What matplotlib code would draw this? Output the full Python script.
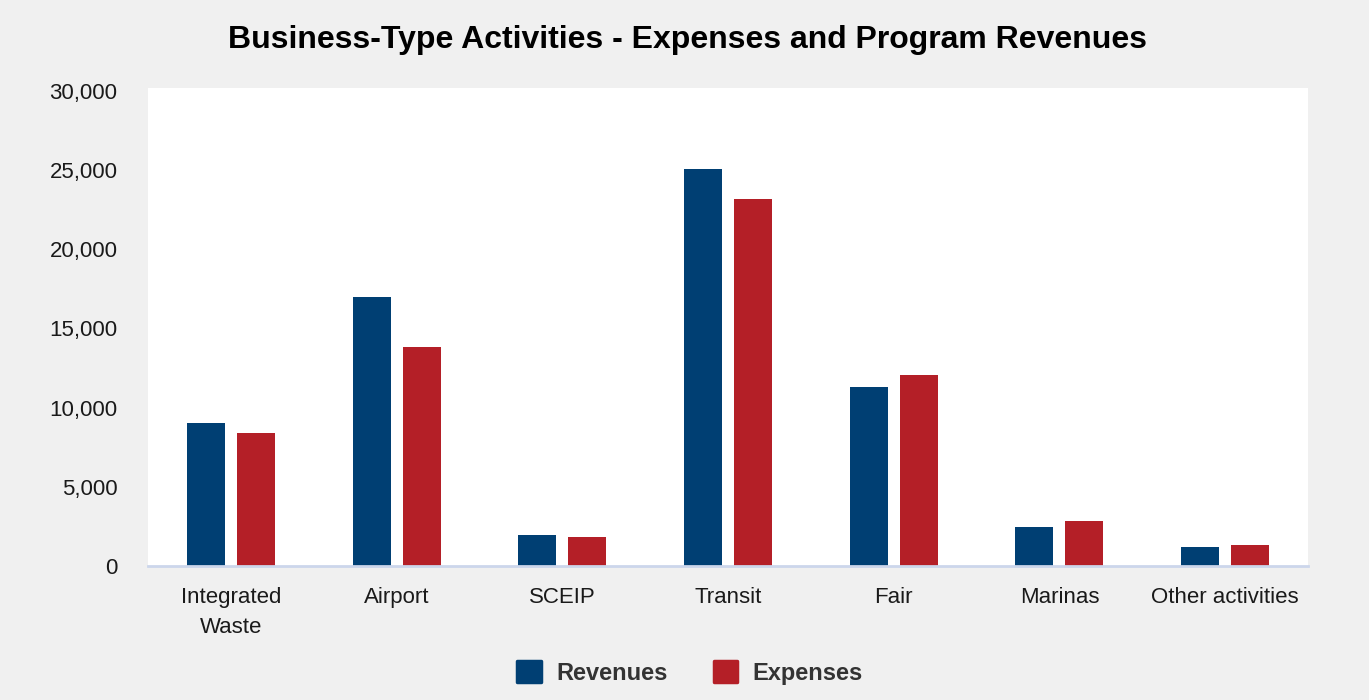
import numpy as np
import matplotlib.pyplot as plt
from matplotlib.ticker import FuncFormatter

plt.rcParams['font.family'] = ['Liberation Sans', 'DejaVu Sans']

# Business-type activities, in thousands
categories = ['Integrated\nWaste', 'Airport', 'SCEIP', 'Transit', 'Fair', 'Marinas', 'Other activities']
revenues = [9030, 16980, 1960, 25060, 11300, 2460, 1200]
expenses = [8400, 13830, 1830, 23170, 12060, 2840, 1330]

blue = '#003f73'
red = '#b41f27'

fig = plt.figure(figsize=(13.69, 7), dpi=100, facecolor='#f0f0f0')
ax = fig.add_axes([148 / 1369, 1 - 566 / 700, 1160 / 1369, 478 / 700])
ax.set_facecolor('white')

x = np.arange(len(categories))
w = 0.229
ax.bar(x - 0.151, revenues, width=w, color=blue, label='Revenues', zorder=3)
ax.bar(x + 0.151, expenses, width=w, color=red, label='Expenses', zorder=3)

ax.set_xlim(-0.5, len(categories) - 0.5)
ax.set_ylim(0, 30180)
ax.set_yticks(range(0, 30001, 5000))
ax.yaxis.set_major_formatter(FuncFormatter(lambda v, p: f'{int(v):,}'))
ax.set_xticks(x)
ax.set_xticklabels(categories, linespacing=1.55)
ax.tick_params(axis='y', length=0, pad=22, labelsize=16, labelcolor='#1a1a1a')
ax.tick_params(axis='x', length=0, pad=15, labelsize=16, labelcolor='#1a1a1a')

for s in ['top', 'right', 'left']:
    ax.spines[s].set_visible(False)
ax.spines['bottom'].set_color('#ccd6eb')
ax.spines['bottom'].set_linewidth(2)
ax.spines['bottom'].set_zorder(4)

fig.text(0.5025, 1 - 40 / 700, 'Business-Type Activities - Expenses and Program Revenues',
         ha='center', va='center', fontsize=23, fontweight='bold', color='black')

leg = fig.legend(loc='center', bbox_to_anchor=(0.504, 1 - 673 / 700), ncol=2, frameon=False,
                 prop={'size': 17, 'weight': 'bold'}, handlelength=1.0, handleheight=1.0,
                 columnspacing=1.95, handletextpad=0.65)
for t in leg.get_texts():
    t.set_color('#333333')
for h in leg.legend_handles:
    h.set_joinstyle('round')
    h.set_linewidth(2.5)
    h.set_edgecolor(h.get_facecolor())

fig.savefig('out.png', dpi=100, facecolor=fig.get_facecolor())
